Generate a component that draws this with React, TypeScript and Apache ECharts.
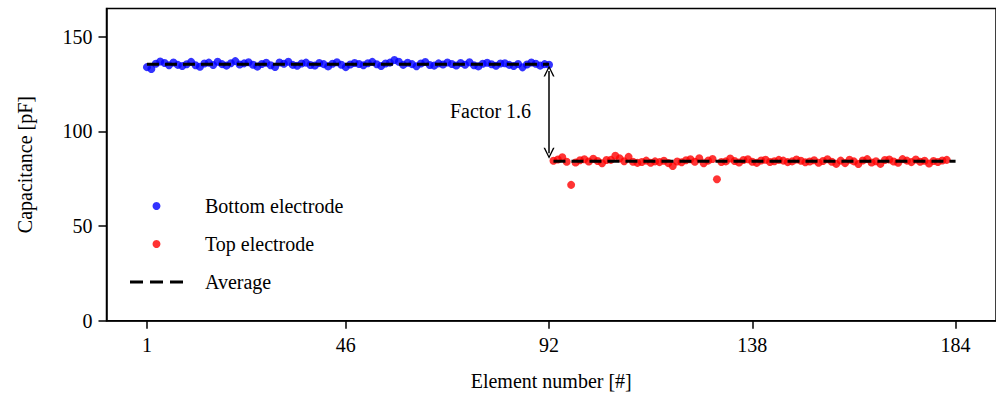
import React, { useEffect, useRef } from "react";
import * as echarts from "echarts";

const xTicks = [1, 46, 92, 138, 184];

const bottomX = Array.from({ length: 92 }, (_, i) => i + 1);
const bottomValues = [
  134.0, 133.0, 135.8, 137.0, 136.2, 135.0, 136.5, 135.2, 134.6, 135.5,
  136.8, 135.0, 134.2, 135.9, 136.4, 135.1, 136.9, 135.6, 134.8, 136.1,
  137.2, 135.4, 136.0, 136.6, 135.3, 134.3, 135.7, 136.3, 135.0, 134.1,
  136.5, 135.8, 136.9, 135.2, 134.7, 135.9, 136.4, 135.1, 134.9, 136.2,
  135.6, 134.4, 135.8, 136.6, 135.3, 134.0, 135.4, 136.2, 135.7, 135.0,
  136.1, 136.8, 135.5, 134.6, 135.9, 136.4, 137.8, 136.9, 135.2, 136.3,
  135.6, 134.5, 135.9, 136.7, 135.1, 134.8, 136.0, 135.4, 136.5, 135.7,
  134.9, 136.2, 135.3, 136.6, 135.0, 134.4, 135.8, 136.3, 135.5, 134.7,
  135.9, 136.1, 135.2, 134.6, 135.7, 133.9, 135.4, 136.5, 135.8, 134.8,
  135.6, 135.3,
];

const topX = Array.from({ length: 90 }, (_, i) => i + 93);
const topValues = [
  84.5, 85.2, 86.4, 84.0, 71.8, 83.6, 84.8, 85.3, 84.1, 85.6,
  84.4, 83.2, 84.9, 85.0, 87.2, 85.8, 84.3, 86.6, 84.0, 83.4,
  83.9, 84.6, 83.5, 84.2, 83.8, 84.5, 83.3, 81.8, 84.1, 83.7,
  84.8, 85.3, 84.0, 85.9, 83.2, 84.6, 85.5, 74.8, 83.9, 84.2,
  85.7, 84.4, 83.6, 84.9, 85.3, 84.0, 83.4, 84.7, 85.1, 83.9,
  84.3, 85.0, 84.6, 83.8, 84.2, 85.2, 84.5, 83.7, 84.1, 84.8,
  83.5, 84.4, 85.3, 84.0, 82.9, 84.6, 83.3, 85.1, 84.2, 82.8,
  84.7, 85.4, 83.6, 84.3, 82.9, 84.9, 85.2, 84.1, 83.5, 85.4,
  84.6, 83.8, 85.2, 84.0, 84.5, 83.1, 84.4, 83.9, 84.7, 85.0,
];

const bottomAverage = 135.5;
const topAverage = 84.3;
const bottomRange = [1, 92];
const topRange = [93, 184];
const arrowX = 92;
const arrowFrom = 132;
const arrowTo = 88.5;
const factorLabel = "Factor 1.6";
const factorY = 111;

const FONT = "Liberation Serif";
const chevron = "path://M5,0 L10,10 L8.6,10 L5,2.6 L1.4,10 L0,10 Z";
const dashIcon = "path://M0,0 H13 V3 H0 Z M20,0 H33 V3 H20 Z M40,0 H53 V3 H40 Z";

function patchFonts(root: HTMLElement | null) {
  if (!root) return;
  root.querySelectorAll("text").forEach((t) => {
    if (t.getAttribute("data-serif") === "1") return;
    const st = t.getAttribute("style") || "";
    const m = st.match(/([\d.]+)px/);
    const size = m ? m[1] + "px" : "20px";
    const rest = st
      .split(";")
      .filter((p) => {
        const k = p.split(":")[0].trim();
        return k && k !== "font" && k !== "font-family" && k !== "font-size";
      })
      .join(";");
    t.setAttribute(
      "style",
      (rest ? rest + ";" : "") + "font-size:" + size + ";font-family:Liberation Serif, serif"
    );
    t.setAttribute("font-family", "Liberation Serif, serif");
    t.setAttribute("font-size", size);
    t.setAttribute("data-serif", "1");
  });
}

export default function App() {
  const ref = useRef<HTMLDivElement>(null);
  useEffect(() => {
    document.body.style.margin = "0";
    if (!ref.current) return;
    const chart = echarts.init(ref.current, null, { renderer: "svg" });
    chart.setOption({
      animation: false,
      textStyle: { fontFamily: FONT },
      grid: {
        left: 106.5,
        right: -11,
        top: 8.5,
        bottom: 81.3,
        show: true,
        borderColor: "#000",
        borderWidth: 1.5,
        backgroundColor: "transparent",
      },
      legend: {
        orient: "vertical",
        left: 130,
        top: 196,
        padding: 0,
        itemWidth: 53,
        itemHeight: 8,
        itemGap: 18,
        data: [
          { name: "Bottom electrode", icon: "circle" },
          { name: "Top electrode", icon: "circle" },
          { name: "Average", icon: dashIcon, itemStyle: { color: "#000" } },
        ],
        textStyle: {
          fontFamily: FONT,
          fontSize: 20,
          color: "#000",
          lineHeight: 20,
          padding: [0, 0, 0, 17],
        },
      },
      xAxis: {
        type: "value",
        min: -8.15,
        max: 193.15,
        name: "Element number [#]",
        nameLocation: "middle",
        nameGap: 50,
        nameTextStyle: { fontFamily: FONT, fontSize: 20, color: "#000" },
        axisLine: { show: true, onZero: false, lineStyle: { color: "#000", width: 1.5 } },
        axisTick: {
          show: true,
          length: 8,
          lineStyle: { color: "#000", width: 1.5 },
          customValues: xTicks,
        },
        axisLabel: {
          customValues: xTicks,
          fontFamily: FONT,
          fontSize: 20,
          color: "#000",
          margin: 14,
        },
        splitLine: { show: false },
      },
      yAxis: {
        type: "value",
        min: 0,
        max: 165,
        interval: 50,
        name: "Capacitance [pF]",
        nameLocation: "middle",
        nameGap: 72,
        nameTextStyle: { fontFamily: FONT, fontSize: 20, color: "#000" },
        axisLine: { show: true, onZero: false, lineStyle: { color: "#000", width: 1.5 } },
        axisTick: { show: true, length: 8, lineStyle: { color: "#000", width: 1.5 } },
        axisLabel: {
          fontFamily: FONT,
          fontSize: 20,
          color: "#000",
          margin: 14,
          showMaxLabel: false,
        },
        splitLine: { show: false },
      },
      series: [
        {
          name: "Bottom electrode",
          type: "scatter",
          symbolSize: 8,
          itemStyle: { color: "#0000ff" },
          data: bottomX.map((x, i) => [x, bottomValues[i]]),
        },
        {
          name: "Top electrode",
          type: "scatter",
          symbolSize: 8,
          itemStyle: { color: "#ff0000" },
          data: topX.map((x, i) => [x, topValues[i]]),
        },
        {
          name: "Average",
          type: "line",
          showSymbol: false,
          symbol: "none",
          lineStyle: { color: "#000", width: 3, type: [12, 6] },
          itemStyle: { color: "#000" },
          data: bottomRange.map((x) => [x, bottomAverage]),
        },
        {
          name: "Average",
          type: "line",
          showSymbol: false,
          symbol: "none",
          lineStyle: { color: "#000", width: 3, type: [12, 6] },
          itemStyle: { color: "#000" },
          data: topRange.map((x) => [x, topAverage]),
          markLine: {
            silent: true,
            symbol: [chevron, chevron],
            symbolSize: [11, 11],
            label: { show: false },
            lineStyle: { color: "#000", width: 1.5, type: "solid" },
            data: [[{ coord: [arrowX, arrowFrom] }, { coord: [arrowX, arrowTo] }]],
          },
          markPoint: {
            silent: true,
            symbol: "circle",
            symbolSize: 0,
            itemStyle: { color: "transparent" },
            label: {
              show: true,
              position: "left",
              distance: 18,
              formatter: factorLabel,
              fontFamily: FONT,
              fontSize: 20,
              color: "#000",
            },
            data: [{ coord: [arrowX, factorY] }],
          },
        },
      ],
    });
    const el = ref.current;
    patchFonts(el);
    const onFinished = () => patchFonts(el);
    chart.on("finished", onFinished);
    const raf = requestAnimationFrame(() => patchFonts(el));
    const timer = setTimeout(() => patchFonts(el), 50);
    return () => {
      cancelAnimationFrame(raf);
      clearTimeout(timer);
      chart.off("finished", onFinished);
      chart.dispose();
    };
  }, []);
  return <div ref={ref} style={{ width: 996, height: 402 }} />;
}
